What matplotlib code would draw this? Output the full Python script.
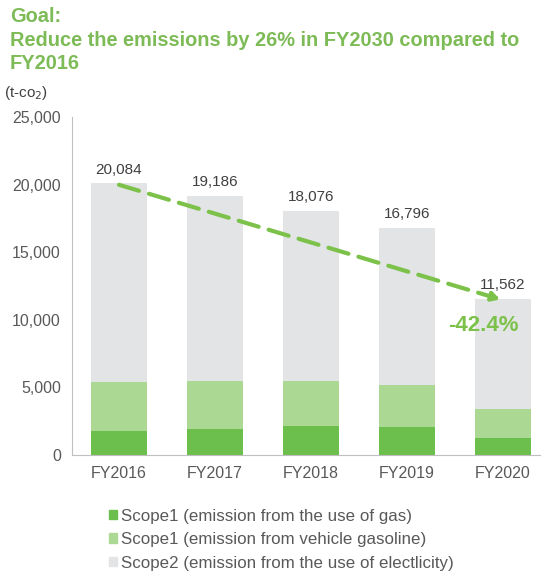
import numpy as np
import matplotlib.pyplot as plt
from matplotlib import patches
from matplotlib.ticker import FuncFormatter

plt.rcParams['font.family'] = ['Liberation Sans', 'DejaVu Sans']

years = ['FY2016', 'FY2017', 'FY2018', 'FY2019', 'FY2020']
totals = [20084, 19186, 18076, 16796, 11562]
gas = [1780, 1920, 2170, 2050, 1280]
gasoline = [3620, 3550, 3330, 3130, 2120]
electricity = [t - a - b for t, a, b in zip(totals, gas, gasoline)]
reduction = '-42.4%'

labels = ['Scope1 (emission from the use of gas)',
          'Scope1 (emission from vehicle gasoline)',
          'Scope2 (emission from the use of electlicity)']
colors = ['#6cbf4c', '#abd993', '#e3e4e6']
title_green = '#7dbb57'

fig = plt.figure(figsize=(5.45, 5.76), dpi=100)
ax = fig.add_axes([0.132, 0.21, 0.858, 0.587])

x = np.arange(len(years))
w = 0.59
ax.bar(x, gas, w, color=colors[0])
ax.bar(x, gasoline, w, bottom=gas, color=colors[1])
bottom2 = np.array(gas) + np.array(gasoline)
ax.bar(x, electricity, w, bottom=bottom2, color=colors[2])

for i, t in enumerate(totals):
    ax.text(x[i], t + 500, f'{t:,}', ha='center', va='bottom',
            fontsize=11, color='#404040')

# dashed trend arrow from first to last year
ax.annotate('', xy=(x[-1] - 0.03, totals[-1] - 50), xytext=(x[0], totals[0] - 100),
            arrowprops=dict(arrowstyle='-|>,head_length=0.45,head_width=0.25',
                            color='#7cc24a', lw=3, ls=(0, (5, 2.5)),
                            shrinkA=0, shrinkB=0))
ax.text(x[-1] - 0.2, 9600, reduction, ha='center', va='center',
        fontsize=16, fontweight='bold', color='#7cc24a')

ax.set_ylim(0, 25000)
ax.set_xlim(-0.49, 4.38)
ax.set_yticks(range(0, 25001, 5000))
ax.yaxis.set_major_formatter(FuncFormatter(lambda v, p: f'{int(v):,}'))
ax.set_xticks(x)
ax.set_xticklabels(years)
ax.tick_params(axis='both', length=0, labelsize=11.5, colors='#595959', pad=8)
for s in ['top', 'right']:
    ax.spines[s].set_visible(False)
ax.spines['left'].set_color('#bfbfbf')
ax.spines['bottom'].set_color('#bfbfbf')

fig.text(0.018, 0.987, 'Goal:\nReduce the emissions by 26% in FY2030 compared to\nFY2016',
         ha='left', va='top', fontsize=14.4, fontweight='bold',
         color=title_green, linespacing=1.3)
fig.text(0.008, 0.838, '(t-co$_2$)', ha='left', va='center', fontsize=11,
         color='#404040')

handles = [patches.Patch(color=c) for c in colors]
fig.legend(handles, labels, loc='upper left', bbox_to_anchor=(0.2, 0.117),
           frameon=False, fontsize=12.2, handlelength=0.5, handleheight=0.5,
           handletextpad=0.2, labelspacing=0.5, borderaxespad=0, borderpad=0,
           labelcolor='#595959')

fig.savefig('out.png', dpi=100)
